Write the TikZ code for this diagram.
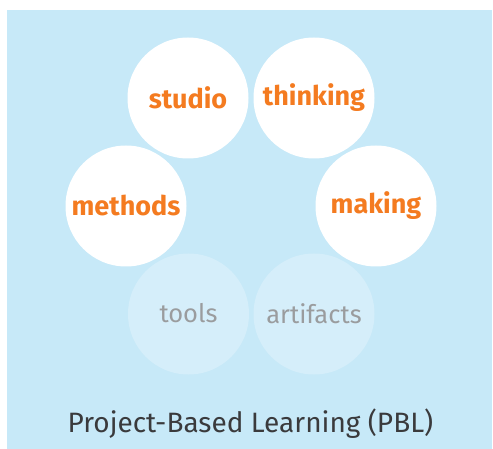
\documentclass[tikz,border=0pt]{standalone}
\usepackage{fontspec}
\setmainfont{Fira Sans}
\definecolor{bgblue}{HTML}{C7E9F8}
\definecolor{fadeblue}{HTML}{D5EEFA}
\definecolor{orng}{HTML}{F47B20}
\definecolor{greytxt}{HTML}{9A9C9E}
\definecolor{titletxt}{HTML}{3A3A3C}
\tikzset{
  main/.style={circle, fill=white, minimum size=121pt, inner sep=0pt, text=orng, font=\fontsize{27}{30}\selectfont\bfseries},
  faded/.style={circle, fill=fadeblue, minimum size=121pt, inner sep=0pt, text=greytxt, font=\fontsize{25.5}{30}\selectfont}
}
\begin{document}
\begin{tikzpicture}[x=1pt,y=-1pt]
\useasboundingbox (0,0) rectangle (493,449);
\fill[bgblue] (7,10) rectangle (492,449);
\node[faded] (tools) at (188.5,314) {\raisebox{1.5pt}{tools}};
\node[faded] (artifacts) at (314,314) {\raisebox{1.5pt}{artifacts}};
\node[main] (studio) at (188,98) {\raisebox{1pt}{studio}};
\node[main] (thinking) at (314,98) {thinking};
\node[main] (methods) at (126,206) {\raisebox{1.5pt}{methods}};
\node[main] (making) at (376,206) {making};
\node[text=titletxt, font=\fontsize{28}{32}\selectfont, inner sep=0pt] (title) at (250.5,424) {Project-Based Learning (PBL)};
\end{tikzpicture}
\end{document}
